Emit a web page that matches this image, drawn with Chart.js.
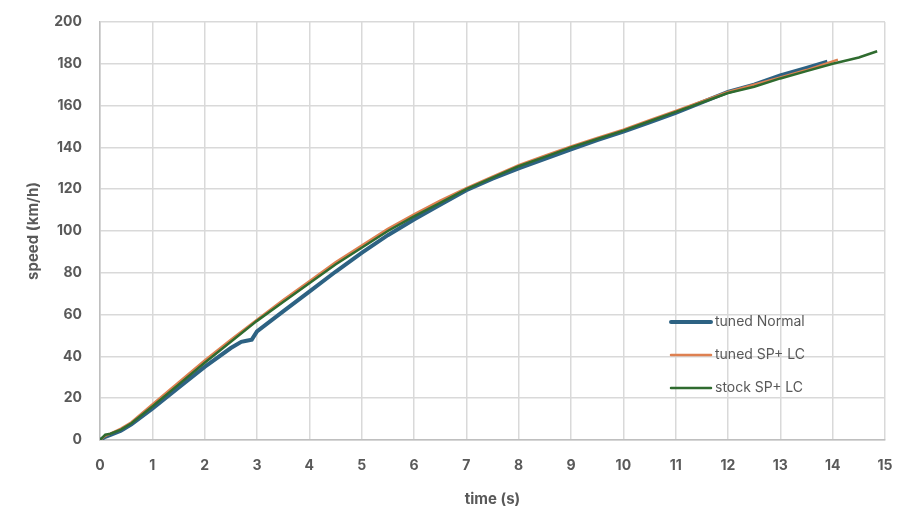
<!DOCTYPE html>
<html>
<head>
<meta charset="utf-8">
<script src="https://cdn.jsdelivr.net/npm/chart.js@4.4.0/dist/chart.umd.min.js"></script>
<style>
  html, body { margin: 0; padding: 0; background: #fff; }
  #wrap { width: 922px; height: 526px; }
</style>
</head>
<body>
<div id="wrap"><canvas id="speedChart" width="922" height="526"></canvas></div>
<script>
// tuned Normal
const tunedNormalTime = [0, 0.1, 0.2, 0.4, 0.6, 1, 1.5, 2, 2.5, 2.7, 2.8, 2.9, 3.0, 3.5, 4, 4.5, 5, 5.5, 6, 6.5, 7, 7.5, 8, 8.5, 9, 9.5, 10, 10.5, 11, 11.5, 12, 12.5, 13, 13.5, 13.9];
const tunedNormalSpeed = [0, 1.5, 2.5, 4.5, 7.5, 15, 25, 35, 44, 47, 47.5, 48, 52, 61.5, 71, 80.5, 89.5, 98, 105.5, 112.5, 119.5, 125, 130, 134.5, 139, 143.5, 147.5, 152, 156.5, 161.5, 166.5, 170, 174.5, 178, 181];

// tuned SP+ LC
const tunedLcTime = [0, 0.1, 0.2, 0.4, 0.6, 1, 1.5, 2, 2.5, 3, 3.5, 4, 4.5, 5, 5.5, 6, 6.5, 7, 7.5, 8, 8.5, 9, 9.5, 10, 10.5, 11, 11.5, 12, 12.5, 13, 13.5, 14.1];
const tunedLcSpeed = [0, 2, 3, 5.5, 8.5, 17, 27.5, 38, 48, 57.5, 67, 76, 85, 93, 101, 108, 114.5, 120.5, 126, 131.5, 136, 140.5, 144.5, 148.5, 153, 157.5, 162, 166.5, 170, 173.5, 177, 182];

// stock SP+ LC
const stockLcTime = [0, 0.1, 0.2, 0.4, 0.6, 1, 1.5, 2, 2.5, 3, 3.5, 4, 4.5, 5, 5.5, 6, 6.5, 7, 7.5, 8, 8.5, 9, 9.5, 10, 10.5, 11, 11.5, 12, 12.5, 13, 13.5, 14, 14.5, 14.85];
const stockLcSpeed = [0, 2.5, 3, 5, 8, 16, 26.5, 37, 47, 57, 66, 75, 84, 92, 100, 107, 113.5, 120, 125.5, 131, 135.5, 140, 144, 148, 152.5, 157, 161.5, 166, 169, 173, 176.5, 180, 183, 186];

const xTicks = [0, 1, 2, 3, 4, 5, 6, 7, 8, 9, 10, 11, 12, 13, 14, 15];
const yTicks = [0, 20, 40, 60, 80, 100, 120, 140, 160, 180, 200];

function toPoints(times, speeds) {
  return times.map((t, i) => ({ x: t, y: speeds[i] }));
}

const textColor = '#595959';
const fontFamily = 'Inter, "Open Sans", sans-serif';

// legend drawn inside the plot, bottom right
const insideLegend = {
  id: 'insideLegend',
  afterDatasetsDraw(chart) {
    const ctx = chart.ctx;
    const x0 = 671, y0 = 322, gap = 33;
    ctx.save();
    ctx.font = '14px ' + fontFamily;
    ctx.textBaseline = 'middle';
    chart.data.datasets.forEach((ds, i) => {
      const y = y0 + i * gap;
      ctx.strokeStyle = ds.borderColor;
      ctx.lineWidth = ds.borderWidth;
      ctx.lineCap = 'round';
      ctx.beginPath();
      ctx.moveTo(x0, y);
      ctx.lineTo(x0 + 40, y);
      ctx.stroke();
      ctx.fillStyle = textColor;
      ctx.fillText(ds.label, x0 + 44, y);
    });
    ctx.restore();
  }
};

const ctx = document.getElementById('speedChart').getContext('2d');
new Chart(ctx, {
  type: 'line',
  data: {
    datasets: [
      {
        label: 'tuned Normal',
        data: toPoints(tunedNormalTime, tunedNormalSpeed),
        borderColor: '#2D6283',
        borderWidth: 4,
        pointRadius: 0,
        tension: 0,
        order: 2
      },
      {
        label: 'tuned SP+ LC',
        data: toPoints(tunedLcTime, tunedLcSpeed),
        borderColor: '#DE8051',
        borderWidth: 2.5,
        pointRadius: 0,
        tension: 0,
        order: 1
      },
      {
        label: 'stock SP+ LC',
        data: toPoints(stockLcTime, stockLcSpeed),
        borderColor: '#2F6B2F',
        borderWidth: 2.5,
        pointRadius: 0,
        tension: 0,
        order: 0
      }
    ]
  },
  options: {
    responsive: false,
    animation: false,
    layout: { padding: { left: 0, right: 37, top: 22, bottom: 0 } },
    scales: {
      x: {
        type: 'linear',
        min: 0,
        max: 15,
        afterBuildTicks: (scale) => { scale.ticks = xTicks.map(v => ({ value: v })); },
        afterFit: (scale) => { scale.height = 86; },
        grid: { color: '#d9d9d9', lineWidth: 1.5, drawTicks: false },
        border: { color: '#bfbfbf', width: 1.5 },
        ticks: { color: textColor, padding: 17, font: { family: fontFamily, size: 14, weight: 'bold' } },
        title: { display: true, text: 'time (s)', color: textColor, padding: { top: 0, bottom: 18 }, font: { family: fontFamily, size: 15, weight: 'bold' } }
      },
      y: {
        min: 0,
        max: 200,
        afterBuildTicks: (scale) => { scale.ticks = yTicks.map(v => ({ value: v })); },
        afterFit: (scale) => { scale.width = 100; scale.paddingTop = 0; },
        grid: { color: '#d9d9d9', lineWidth: 1.5, drawTicks: false },
        border: { color: '#bfbfbf', width: 1.5 },
        ticks: { color: textColor, padding: 18, font: { family: fontFamily, size: 14, weight: 'bold' } },
        title: { display: true, text: 'speed (km/h)', color: textColor, padding: { top: 24, bottom: 0 }, font: { family: fontFamily, size: 15, weight: 'bold' } }
      }
    },
    plugins: {
      legend: { display: false },
      tooltip: { enabled: false }
    }
  },
  plugins: [insideLegend]
});
</script>
</body>
</html>
